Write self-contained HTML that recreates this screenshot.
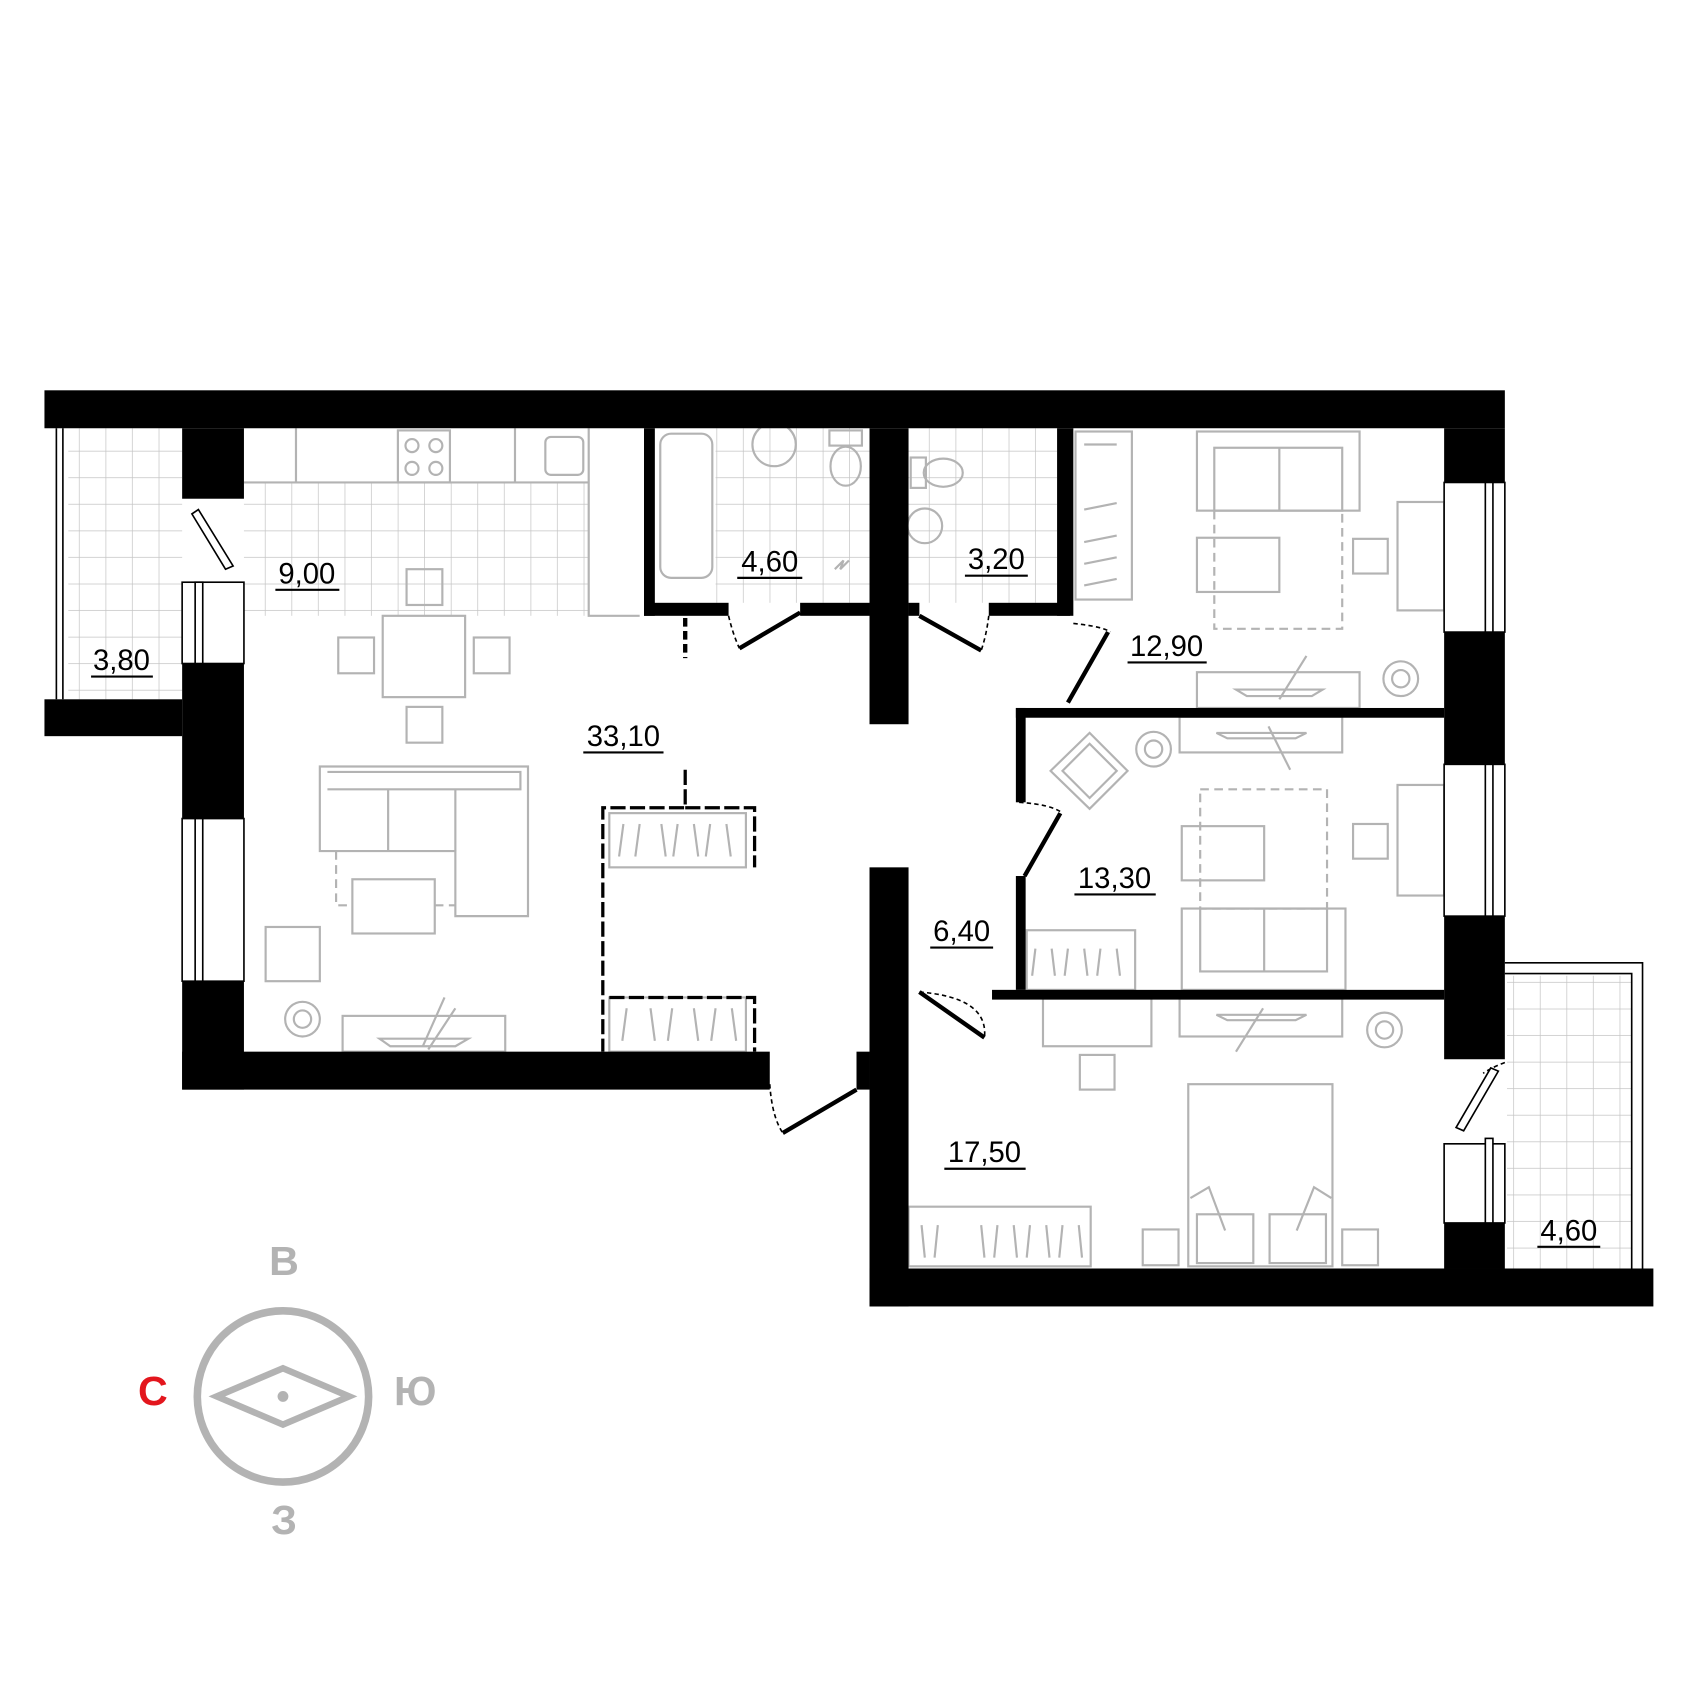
<!DOCTYPE html>
<html><head><meta charset="utf-8"><style>html,body{margin:0;padding:0;background:#fff}svg{display:block}text{font-family:"Liberation Sans",sans-serif}</style></head>
<body>
<svg width="1700" height="1700" viewBox="0 0 1568 1568" xmlns="http://www.w3.org/2000/svg">
<defs>
<pattern id="g" width="24.5" height="24.5" patternUnits="userSpaceOnUse"><path d="M24.5 0V24.5H0" fill="none" stroke="#c4c4c4" stroke-width="1.3"/></pattern>
</defs>
<rect x="63" y="395" width="105" height="250" fill="url(#g)"/>
<rect x="225" y="445" width="318" height="123" fill="url(#g)"/>
<rect x="660" y="395" width="142" height="161" fill="url(#g)"/>
<rect x="838" y="395" width="137" height="161" fill="url(#g)"/>
<rect x="1390" y="900" width="115" height="270" fill="url(#g)"/>
<g fill="none" stroke="#b3b3b3" stroke-width="2">
<path d="M225 445H543V395M543 445V568H590"/>
<rect x="367" y="397" width="48" height="48"/><circle cx="380" cy="411" r="6"/><circle cx="402" cy="411" r="6"/><circle cx="380" cy="432" r="6"/><circle cx="402" cy="432" r="6"/>
<rect x="503" y="403" width="35" height="35" rx="5"/>
<path d="M273 395V445M475 395V445"/>
<rect x="353" y="568" width="76" height="75"/><rect x="375" y="525" width="33" height="33"/><rect x="375" y="652" width="33" height="33"/><rect x="312" y="588" width="33" height="33"/><rect x="437" y="588" width="33" height="33"/>
<path d="M295 707H487V845H420V785H295Z"/><path d="M302 712H480V728H302M358 728V785M420 728V785"/>
<rect x="325" y="811" width="76" height="50"/><path d="M310 785V835H325M401 835H420" stroke-dasharray="8 5"/>
<rect x="245" y="855" width="50" height="50"/><circle cx="279" cy="940" r="16"/><circle cx="279" cy="940" r="8"/>
<rect x="316" y="937" width="150" height="33"/><path d="M350 958H432L420 965H360Z"/><path d="M420 930L395 968M410 920L390 965"/>
<rect x="562" y="750" width="126" height="50"/><rect x="562" y="920" width="126" height="50"/>
<path d="M575 760l-4 30M590 760l-4 30M610 760l4 30M625 760l-4 30M640 760l4 30M655 760l-4 30M670 760l4 30M578 930l-4 30M600 930l4 30M620 930l-4 30M640 930l4 30M660 930l-4 30M675 930l4 30"/>
<rect x="609" y="400" width="48" height="133" rx="10"/><circle cx="714" cy="410" r="20"/><rect x="765" y="397" width="30" height="14"/><ellipse cx="780" cy="430" rx="14" ry="18"/>
<path d="M770 525l8 -8 -3 8 8 -8"/>
<rect x="840" y="422" width="14" height="28"/><ellipse cx="870" cy="436" rx="18" ry="13"/><circle cx="853" cy="485" r="16"/>
<rect x="992" y="398" width="52" height="155"/><path d="M1000 410l30 0M1000 470l30 -6M1000 500l30 -6M1000 520l30 -6M1000 540l30 -6"/>
<rect x="1104" y="398" width="150" height="73"/><rect x="1120" y="413" width="118" height="58"/><path d="M1180 413V471"/>
<path d="M1120 471V580H1238V471" stroke-dasharray="8 5"/><rect x="1104" y="496" width="76" height="50"/><rect x="1248" y="497" width="32" height="32"/><rect x="1289" y="463" width="43" height="100"/>
<rect x="1104" y="620" width="150" height="33"/><path d="M1140 636H1220L1210 642H1150Z"/><path d="M1205 605L1180 645"/><circle cx="1292" cy="626" r="16"/><circle cx="1292" cy="626" r="8"/>
<rect x="1088" y="661" width="150" height="33"/><path d="M1122 676H1205L1195 681H1132Z"/><path d="M1170 670L1190 710"/>
<path d="M969 711L1005 676 1040 711 1005 746Z"/><path d="M980 711L1005 686 1030 711 1005 736Z"/><circle cx="1064" cy="691" r="16"/><circle cx="1064" cy="691" r="8"/>
<rect x="1107" y="728" width="117" height="110" stroke-dasharray="8 5"/><rect x="1090" y="762" width="76" height="50"/><rect x="1248" y="760" width="32" height="32"/><rect x="1289" y="724" width="43" height="102"/>
<rect x="1090" y="838" width="151" height="75"/><rect x="1107" y="838" width="117" height="58"/><path d="M1166 838V896"/>
<rect x="947" y="858" width="100" height="55"/><path d="M955 875l-3 25M970 875l3 25M985 875l-3 25M1000 875l3 25M1015 875l-3 25M1030 875l3 25"/>
<rect x="962" y="921" width="100" height="44"/><rect x="996" y="973" width="32" height="32"/><rect x="1088" y="921" width="150" height="35"/><path d="M1122 936H1205L1195 941H1132Z"/><path d="M1165 930L1140 970"/><circle cx="1277" cy="950" r="16"/><circle cx="1277" cy="950" r="8"/>
<rect x="1096" y="1000" width="133" height="168"/><rect x="1104" y="1120" width="52" height="45"/><rect x="1171" y="1120" width="52" height="45"/><path d="M1098 1105L1115 1095 1130 1135M1228 1105L1212 1095 1196 1135"/>
<rect x="1054" y="1134" width="33" height="33"/><rect x="1238" y="1134" width="33" height="33"/>
<rect x="838" y="1113" width="168" height="55"/><path d="M850 1130l3 30M865 1130l-3 30M905 1130l3 30M920 1130l-3 30M935 1130l3 30M950 1130l-3 30M965 1130l3 30M980 1130l-3 30M995 1130l3 30"/>
</g>
<g fill="none" stroke="#000" stroke-width="1.5" stroke-dasharray="4 3">
<path d="M672 568Q676 585 682 598M912 568Q910 585 905 600M848 915Q912 920 908 957M990 575Q1018 578 1024 583M940 740Q970 742 980 750M710 1000Q712 1030 722 1045M1388 980Q1375 985 1368 990"/>
</g>
<g fill="#000">
<rect x="41" y="360" width="1347" height="35"/>
<rect x="41" y="645" width="127" height="34"/>
<rect x="168" y="395" width="57" height="65"/>
<rect x="168" y="612" width="57" height="143"/>
<rect x="168" y="905" width="57" height="100"/>
<rect x="168" y="970" width="542" height="35"/>
<rect x="802" y="395" width="36" height="273"/>
<rect x="802" y="800" width="36" height="405"/>
<rect x="790" y="970" width="12" height="35"/>
<rect x="802" y="1170" width="723" height="35"/>
<rect x="1332" y="395" width="56" height="50"/>
<rect x="1332" y="583" width="56" height="122"/>
<rect x="1332" y="845" width="56" height="132"/>
<rect x="1332" y="1128" width="56" height="42"/>
<rect x="594" y="395" width="10" height="173"/>
<rect x="594" y="556" width="78" height="12"/>
<rect x="738" y="556" width="64" height="12"/>
<rect x="838" y="556" width="10" height="12"/>
<rect x="912" y="556" width="75" height="12"/>
<rect x="975" y="395" width="15" height="173"/>
<rect x="937" y="653" width="395" height="9"/>
<rect x="937" y="653" width="9" height="87"/>
<rect x="937" y="808" width="9" height="105"/>
<rect x="915" y="913" width="417" height="9"/>
</g>
<g stroke="#000" stroke-width="4" fill="none">
<path d="M682 598L738 565M848 568L905 600M848 915L908 957M985 648L1022 583M945 808L978 750M722 1045L790 1005"/>
<path d="M632 570V607" stroke-dasharray="8 4"/>
<path d="M632 710V745H556V970M632 745H696V800M562 920H696V970" stroke-width="3" stroke-dasharray="14 4"/>
</g>
<g fill="#fff" stroke="#000" stroke-width="1.5">
<rect x="168" y="537" width="57" height="75"/><rect x="180" y="537" width="7" height="75"/>
<rect x="168" y="755" width="57" height="150"/><rect x="180" y="755" width="7" height="150"/>
<rect x="1332" y="445" width="56" height="138"/><rect x="1370" y="445" width="7" height="138"/>
<rect x="1332" y="705" width="56" height="140"/><rect x="1370" y="705" width="7" height="140"/>
<rect x="1332" y="1055" width="56" height="73"/><rect x="1370" y="1050" width="7" height="78"/>
<path d="M183 470L215 522L208 525L177 474Z"/><path d="M1375 985L1343 1040L1350 1043L1382 988Z"/>
</g>
<g fill="none" stroke="#000" stroke-width="1.5">
<path d="M52 395V645M58 395V645"/>
<path d="M1388 888H1515V1170M1388 898H1505V1170"/>
</g>
<g font-size="27" fill="#000" text-anchor="middle">
<text x="112" y="618">3,80</text><path d="M84 624H141" stroke="#000" stroke-width="2"/>
<text x="283" y="538">9,00</text><path d="M254 544H313" stroke="#000" stroke-width="2"/>
<text x="710" y="527">4,60</text><path d="M680 533H740" stroke="#000" stroke-width="2"/>
<text x="919" y="525">3,20</text><path d="M890 531H948" stroke="#000" stroke-width="2"/>
<text x="1076" y="605">12,90</text><path d="M1040 611H1113" stroke="#000" stroke-width="2"/>
<text x="575" y="688">33,10</text><path d="M538 694H612" stroke="#000" stroke-width="2"/>
<text x="1028" y="819">13,30</text><path d="M991 825H1066" stroke="#000" stroke-width="2"/>
<text x="887" y="868">6,40</text><path d="M858 874H916" stroke="#000" stroke-width="2"/>
<text x="908" y="1072">17,50</text><path d="M871 1078H946" stroke="#000" stroke-width="2"/>
<text x="1447" y="1144">4,60</text><path d="M1418 1150H1476" stroke="#000" stroke-width="2"/>
</g>
<circle cx="261" cy="1288" r="79" fill="none" stroke="#b3b3b3" stroke-width="7"/>
<path d="M200 1288L261 1262 322 1288 261 1314Z" fill="none" stroke="#b3b3b3" stroke-width="6"/>
<circle cx="261" cy="1288" r="5" fill="#b3b3b3"/>
<g font-size="38" font-weight="bold" text-anchor="middle" fill="#b3b3b3">
<text x="262" y="1176">В</text><text x="141" y="1296" fill="#e3161d">С</text><text x="383" y="1296">Ю</text><text x="262" y="1415">З</text>
</g>
</svg>
</body></html>
